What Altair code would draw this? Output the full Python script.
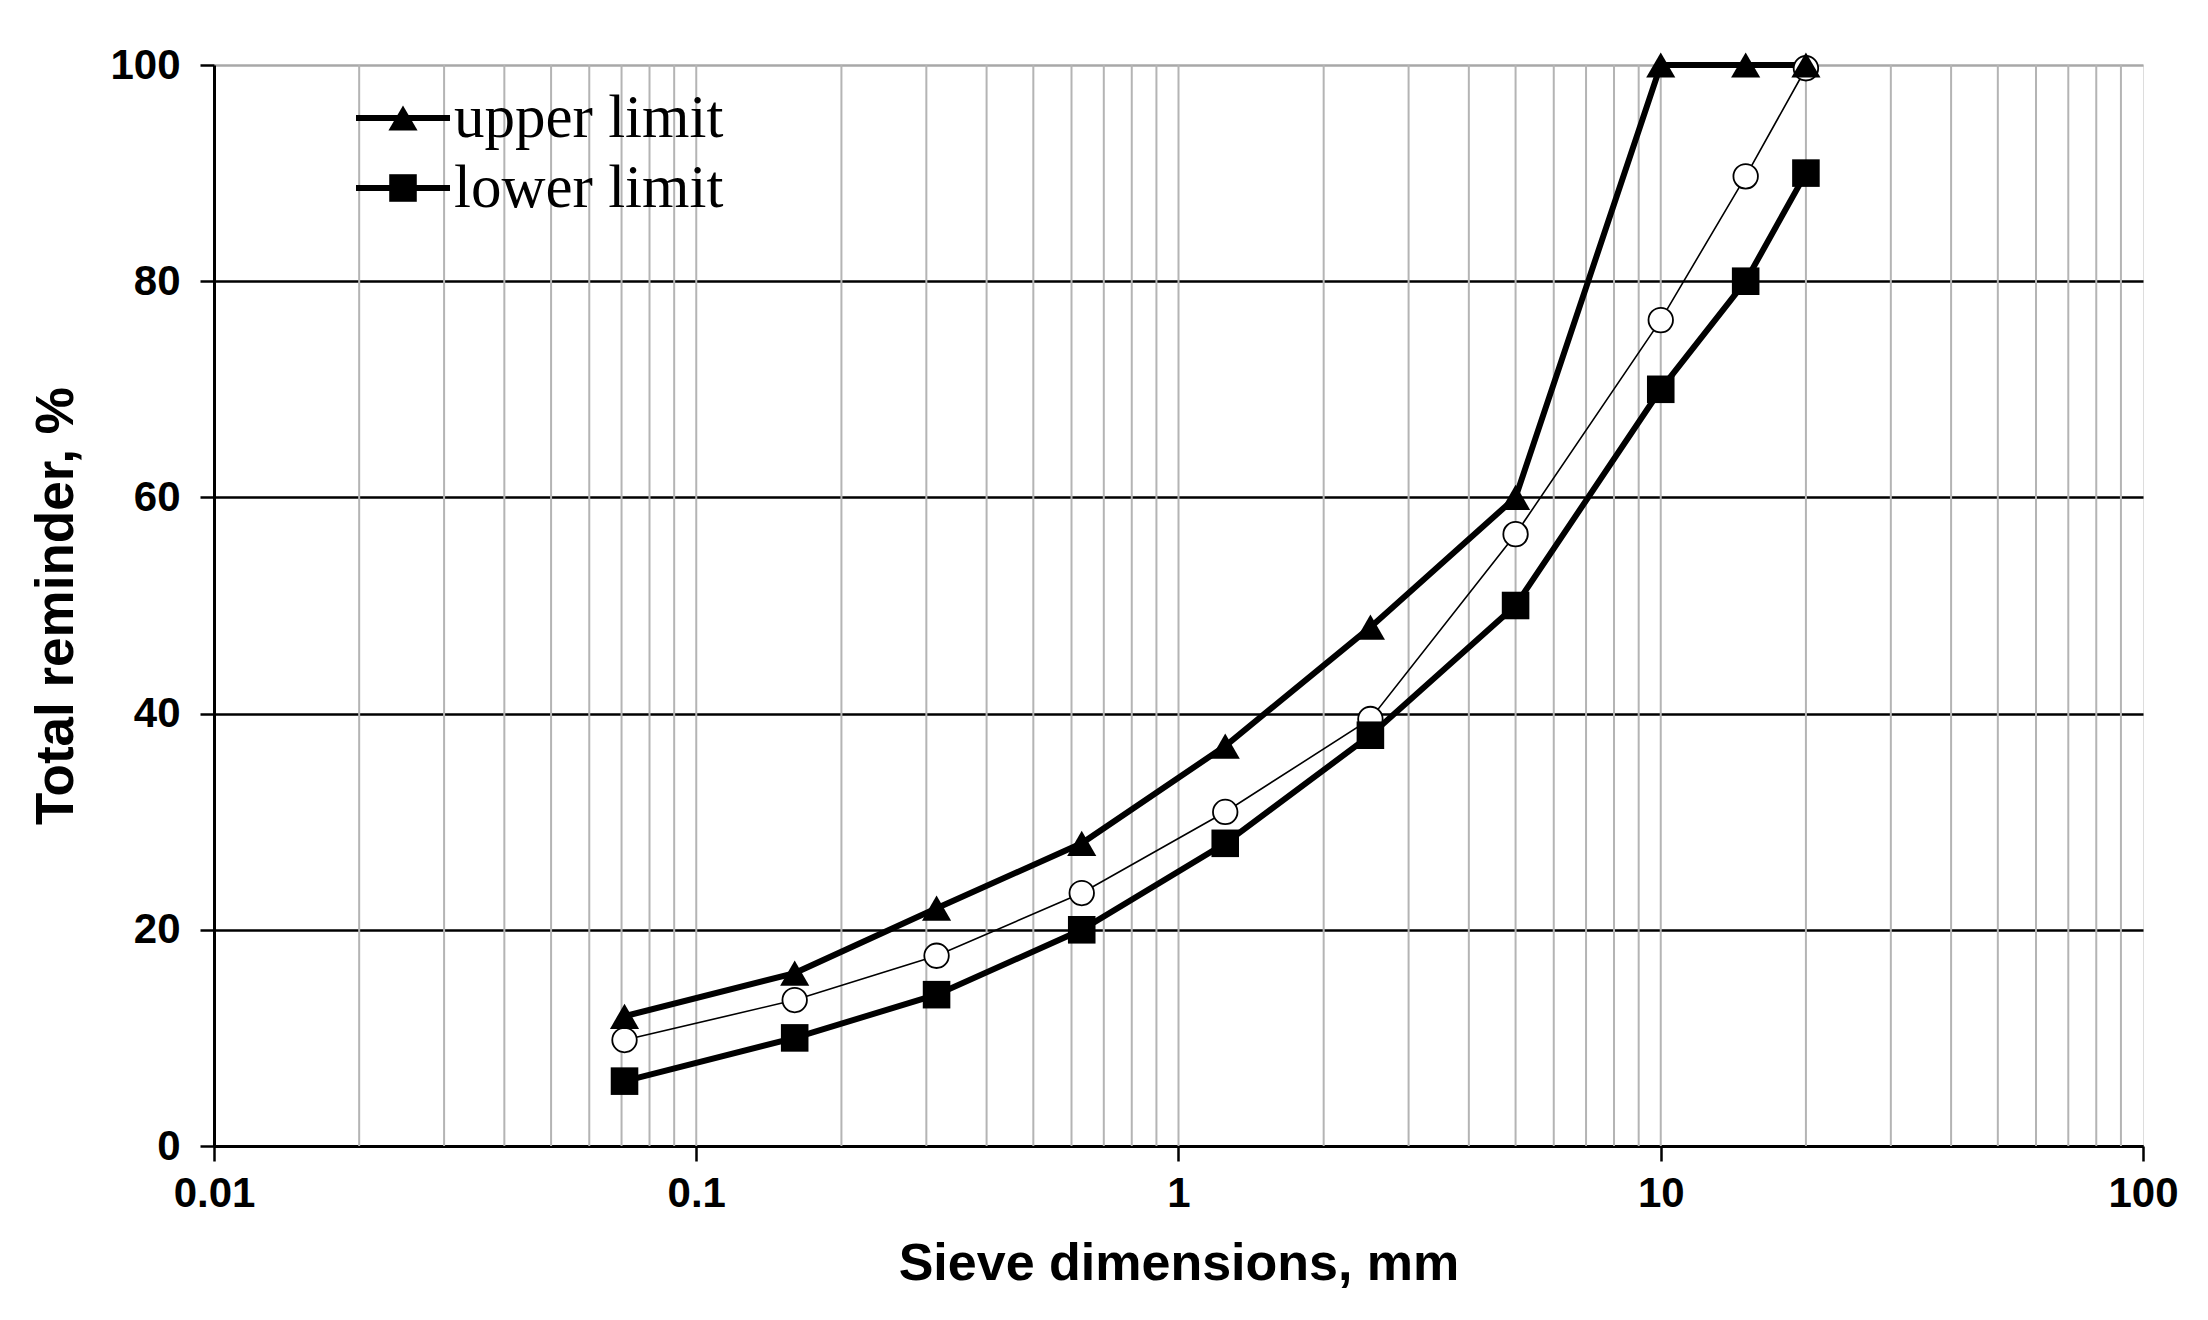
import altair as alt
import pandas as pd

# Sieve sizes (mm)
sieve_mm = [0.071, 0.16, 0.315, 0.63, 1.25, 2.5, 5, 10, 15, 20]
upper_limit = [12, 16, 22, 28, 37, 48, 60, 100, 100, 100]
lower_limit = [6, 10, 14, 20, 28, 38, 50, 70, 80, 90]
sample = [9.8, 13.5, 17.6, 23.4, 30.9, 39.5, 56.6, 76.4, 89.7, 99.7]

x_ticks = [0.01, 0.1, 1, 10, 100]
y_ticks = [0, 20, 40, 60, 80, 100]
minor_grid = [0.02, 0.03, 0.04, 0.05, 0.06, 0.07, 0.08, 0.09,
              0.1, 0.2, 0.3, 0.4, 0.5, 0.6, 0.7, 0.8, 0.9,
              1, 2, 3, 4, 5, 6, 7, 8, 9,
              10, 20, 30, 40, 50, 60, 70, 80, 90]
legend_labels = ["upper limit", "lower limit"]

rows = []
for s, u, l, m in zip(sieve_mm, upper_limit, lower_limit, sample):
    rows.append({"size": s, "value": u, "series": "upper"})
    rows.append({"size": s, "value": l, "series": "lower"})
    rows.append({"size": s, "value": m, "series": "sample"})
df = pd.DataFrame(rows)
grid_df = pd.DataFrame({"size": minor_grid})

xscale = alt.Scale(type="log", domain=[0.01, 100])
yscale = alt.Scale(domain=[0, 100])

x_axis = alt.Axis(
    values=x_ticks, format="~g", grid=False,
    title="Sieve dimensions, mm",
    titleFont="Liberation Sans", titleFontSize=52, titleFontWeight="bold",
    titleColor="black", titlePadding=24,
    labelFont="Liberation Sans", labelFontSize=42, labelFontWeight="bold",
    labelColor="black", labelPadding=12,
    tickSize=15, tickWidth=2.5, tickColor="black",
    domainColor="black", domainWidth=3,
    labelFlush=False, labelOverlap=False,
)
y_axis = alt.Axis(
    values=y_ticks, grid=True,
    gridColor={"condition": {"test": "datum.value == 100", "value": "#a8a8a8"}, "value": "black"},
    gridWidth=2.5,
    title="Total reminder, %",
    titleFont="Liberation Sans", titleFontSize=53, titleFontWeight="bold",
    titleColor="black", titlePadding=26,
    labelFont="Liberation Sans", labelFontSize=42, labelFontWeight="bold",
    labelColor="black", labelPadding=20,
    tickSize=14, tickWidth=2.5, tickColor="black",
    domainColor="black", domainWidth=3,
    labelFlush=False,
)

X = alt.X("size:Q", scale=xscale, axis=x_axis)
Y = alt.Y("value:Q", scale=yscale, axis=y_axis)

base = alt.Chart(df)

grid_rules = alt.Chart(grid_df).mark_rule(color="#b4b4b4", strokeWidth=2).encode(x=X)

def series(name):
    return base.transform_filter(f"datum.series == '{name}'")

upper_line = series("upper").mark_line(color="black", strokeWidth=6).encode(x=X, y=Y)
lower_line = series("lower").mark_line(color="black", strokeWidth=6).encode(x=X, y=Y)
sample_line = series("sample").mark_line(color="black", strokeWidth=1.6).encode(x=X, y=Y)

upper_pts = series("upper").mark_point(
    shape="triangle-up", filled=True, color="black", size=850, opacity=1).encode(x=X, y=Y)
lower_pts = series("lower").mark_point(
    shape="square", filled=True, color="black", size=760, opacity=1).encode(x=X, y=Y)
sample_pts = series("sample").mark_point(
    shape="circle", filled=True, fill="white", stroke="black", strokeWidth=1.8,
    size=600, opacity=1).encode(x=X, y=Y)

# legend (drawn manually, as in the original figure)
leg_df = pd.DataFrame({"label": legend_labels, "row": [0, 1]})
leg = alt.Chart(leg_df)
leg_line_u = leg.transform_filter("datum.row == 0").mark_rule(color="black", strokeWidth=6).encode(
    x=alt.value(142), x2=alt.value(236), y=alt.value(53))
leg_line_l = leg.transform_filter("datum.row == 1").mark_rule(color="black", strokeWidth=6).encode(
    x=alt.value(142), x2=alt.value(236), y=alt.value(123))
leg_tri = leg.transform_filter("datum.row == 0").mark_point(
    shape="triangle-up", filled=True, color="black", size=850, opacity=1).encode(
    x=alt.value(189), y=alt.value(53))
leg_sq = leg.transform_filter("datum.row == 1").mark_point(
    shape="square", filled=True, color="black", size=760, opacity=1).encode(
    x=alt.value(189), y=alt.value(123))
leg_text_u = leg.transform_filter("datum.row == 0").mark_text(
    align="left", baseline="middle", font="Liberation Serif", fontSize=61, color="black").encode(
    x=alt.value(240), y=alt.value(54), text="label:N")
leg_text_l = leg.transform_filter("datum.row == 1").mark_text(
    align="left", baseline="middle", font="Liberation Serif", fontSize=61, color="black").encode(
    x=alt.value(240), y=alt.value(124), text="label:N")

chart = alt.layer(
    grid_rules,
    sample_line, upper_line, lower_line,
    sample_pts, upper_pts, lower_pts,
    leg_line_u, leg_line_l, leg_tri, leg_sq, leg_text_u, leg_text_l,
).properties(
    width=1929, height=1081,
    autosize=alt.AutoSizeParams(type="none"),
    padding={"left": 206, "top": 57, "right": 40, "bottom": 160},
).configure_view(stroke="#a8a8a8", strokeWidth=2.5).configure(background="white")

chart.save("out.html", embed_options={"renderer": "svg", "actions": False})
